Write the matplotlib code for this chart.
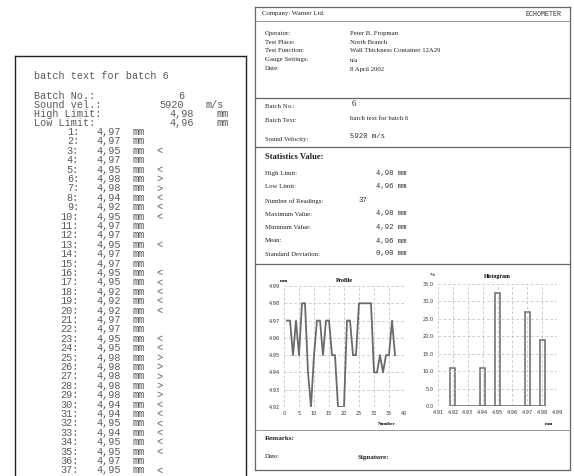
import numpy as np
import matplotlib
matplotlib.use('Agg')
import matplotlib.pyplot as plt
from matplotlib.lines import Line2D

W, H = 574, 476

# readings from the printout
reading_no = list(range(1, 38))
readings = [4.97, 4.97, 4.95, 4.97, 4.95, 4.98, 4.98, 4.94, 4.92, 4.95,
            4.97, 4.97, 4.95, 4.97, 4.97, 4.95, 4.95, 4.92, 4.92, 4.92,
            4.97, 4.97, 4.95, 4.95, 4.98, 4.98, 4.98, 4.98, 4.98, 4.94,
            4.94, 4.95, 4.94, 4.95, 4.95, 4.97, 4.95]
flags = ['', '', '<', '', '<', '>', '>', '<', '<', '<',
         '', '', '<', '', '', '<', '<', '<', '<', '<',
         '', '', '<', '<', '>', '>', '>', '>', '>', '<',
         '<', '<', '<', '<', '<', '', '<']

# histogram (% of readings)
hist_bins = [4.92, 4.94, 4.95, 4.97, 4.98]
hist_pct = [10.8, 10.8, 32.4, 27.0, 18.9]

profile_yticks = [4.92, 4.93, 4.94, 4.95, 4.96, 4.97, 4.98, 4.99]
profile_xticks = [0, 5, 10, 15, 20, 25, 30, 35, 40]
hist_xticks = [4.91, 4.92, 4.93, 4.94, 4.95, 4.96, 4.97, 4.98, 4.99]
hist_yticks = [0, 5, 10, 15, 20, 25, 30, 35]

fig = plt.figure(figsize=(W / 100, H / 100), dpi=100)
fig.patch.set_facecolor('white')


def fx(x):
    return x / W


def fy(y):
    return 1 - y / H


def txt(x, y, s, **kw):
    kw.setdefault('va', 'center')
    fig.text(fx(x), fy(y), s, **kw)


def hline(x0, x1, y, c='#555', lw=0.8):
    fig.add_artist(Line2D([fx(x0), fx(x1)], [fy(y), fy(y)], color=c, lw=lw,
                          transform=fig.transFigure))


def vline(x, y0, y1, c='#555', lw=0.8):
    fig.add_artist(Line2D([fx(x), fx(x)], [fy(y0), fy(y1)], color=c, lw=lw,
                          transform=fig.transFigure))


# ---------------- left printout ----------------
mono = dict(family='Liberation Mono', size=7.3, color='#5a5a5a')
hline(15, 246, 56, c='#222', lw=1.0)
vline(15, 56, 476, c='#222', lw=1.0)
vline(246, 56, 476, c='#222', lw=1.0)

txt(34, 76, 'batch text for batch 6', **mono)
txt(34, 96, 'Batch No.:', **mono)
txt(34, 105, 'Sound vel.:', **mono)
txt(34, 114, 'High Limit:', **mono)
txt(34, 123, 'Low Limit:', **mono)
txt(184, 96, '6', ha='right', **mono)
txt(184, 105, '5920', ha='right', **mono)
txt(206, 105, 'm/s', **mono)
txt(194, 114, '4,98', ha='right', **mono)
txt(194, 123, '4,96', ha='right', **mono)
txt(217, 114, 'mm', **mono)
txt(217, 123, 'mm', **mono)

for i, (n, v, f) in enumerate(zip(reading_no, readings, flags)):
    y = 132 + i * 9.4
    txt(79, y, '%d:' % n, ha='right', **mono)
    txt(96, y, ('%.2f' % v).replace('.', ','), **mono)
    txt(133, y, 'mm', **mono)
    if f:
        txt(156, y, f, **mono)

# ---------------- right report ----------------
serif = dict(family='Liberation Serif', size=4.9, color='#222')
rmono = dict(family='Liberation Mono', size=5.2, color='#333')

vline(255, 7, 470, c='#666', lw=0.9)
vline(570, 7, 470, c='#666', lw=0.9)
hline(255, 570, 7, c='#666', lw=0.9)
hline(255, 570, 470, c='#666', lw=0.9)
hline(255, 570, 21, c='#888', lw=0.6)
hline(255, 570, 98, c='#666', lw=0.9)
hline(255, 570, 147, c='#666', lw=0.9)
hline(255, 570, 264, c='#666', lw=0.9)
hline(255, 570, 430, c='#888', lw=0.6)

txt(262, 14, 'Company: Warner Ltd.', **serif)
txt(562, 14, 'ECHOMETER', ha='right', **dict(rmono, size=4.8))

rows = [('Operator:', 'Peter B. Fropman', 33),
        ('Test Place:', 'North Branch', 42),
        ('Test Function:', 'Wall Thickness Container 12A29', 50),
        ('Gauge Settings:', 'n/a', 60),
        ('Date:', '8 April 2002', 69)]
for lab, val, y in rows:
    txt(265, y, lab, **serif)
    txt(350, y, val, **serif)

txt(265, 106, 'Batch No.:', **serif)
txt(352, 104, '6', **dict(serif, size=6))
txt(265, 120, 'Batch Text:', **serif)
txt(350, 118, 'batch text for batch 6', **serif)
txt(265, 139, 'Sound Velocity:', **serif)
txt(350, 137, '5920 m/s', **rmono)

txt(265, 157, 'Statistics Value:', **dict(serif, size=6.2, weight='bold'))
stats = [('High Limit:', '4,98 mm', 174), ('Low Limit:', '4,96 mm', 187),
         ('Number of Readings:', None, 201), ('Maximum Value:', '4,98 mm', 214),
         ('Minimum Value:', '4,92 mm', 227), ('Mean:', '4,96 mm', 241),
         ('Standard Deviation:', '0,00 mm', 254)]
for lab, val, y in stats:
    txt(265, y, lab, **serif)
    if val is None:
        txt(359, y, '37', **rmono)
    else:
        txt(376, y, val, **rmono)

txt(265, 438, 'Remarks:', **dict(serif, weight='bold', size=5))
txt(265, 457, 'Date:', **serif)
txt(358, 457, 'Signature:', **dict(serif, weight='bold', size=5))

tick_kw = dict(labelsize=3.6, length=0, pad=3, colors='#333')
grid_kw = dict(color='#bbb', ls=(0, (4, 3)), lw=0.5)

# Profile
ax1 = fig.add_axes([fx(284), fy(407), fx(404) - fx(284), fy(286) - fy(407)])
ax1.plot(reading_no, readings, color='#6a6a6a', lw=1.3)
ax1.set_xlim(0, 40)
ax1.set_ylim(4.92, 4.99)
ax1.set_xticks(profile_xticks)
ax1.set_yticks(profile_yticks)
ax1.set_yticklabels(['%.2f' % t for t in profile_yticks])
ax1.tick_params(**tick_kw)
ax1.grid(True, **grid_kw)
for s in ax1.spines.values():
    s.set_visible(False)
ax1.set_title('Profile', fontsize=4.2, weight='bold', pad=3, family='Liberation Serif')
txt(280, 281, 'mm', family='Liberation Serif', size=3.6, weight='bold')
txt(378, 424, 'Number', family='Liberation Serif', size=3.6, weight='bold')

# Histogram
ax2 = fig.add_axes([fx(438), fy(406), fx(557) - fx(438), fy(284) - fy(406)])
ax2.bar(hist_bins, hist_pct, width=0.0034, fill=False, edgecolor='#6a6a6a', lw=1.1)
ax2.plot([hist_bins[0], hist_bins[-1]], [0, 0], color='#6a6a6a', lw=1.1)
ax2.set_xlim(4.91, 4.99)
ax2.set_ylim(0, 35)
ax2.set_xticks(hist_xticks)
ax2.set_xticklabels(['%.2f' % t for t in hist_xticks])
ax2.set_yticks(hist_yticks)
ax2.set_yticklabels(['%.1f' % t for t in hist_yticks])
ax2.tick_params(**tick_kw)
ax2.grid(True, **grid_kw)
for s in ax2.spines.values():
    s.set_visible(False)
ax2.set_title('Histogram', fontsize=4.2, weight='bold', pad=4, family='Liberation Serif')
txt(429, 275, '%', family='Liberation Serif', size=3.8, weight='bold')
txt(545, 424, 'mm', family='Liberation Serif', size=3.6, weight='bold')

fig.savefig('out.png', dpi=100, facecolor='white')
